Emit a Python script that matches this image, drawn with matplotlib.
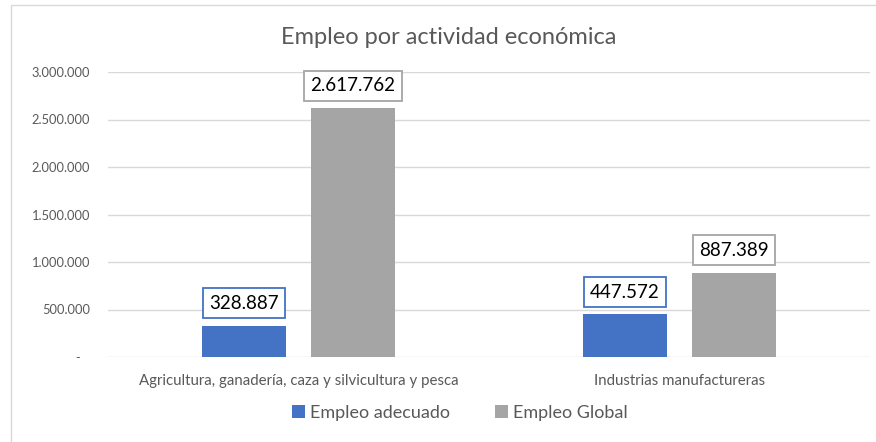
import matplotlib.pyplot as plt
import numpy as np
from matplotlib.patches import Rectangle
from matplotlib.ticker import FuncFormatter

plt.rcParams['font.family'] = ['Lato', 'DejaVu Sans']

# Datos
categorias = ["Agricultura, ganadería, caza y silvicultura y pesca",
              "Industrias manufactureras"]
empleo_adecuado = [328887, 447572]
empleo_global = [2617762, 887389]
series = ["Empleo adecuado", "Empleo Global"]
colores = ["#4472c4", "#a5a5a5"]

fig = plt.figure(figsize=(8.76, 4.42), dpi=100)
ax = fig.add_axes([108 / 876, 85 / 442, 762 / 876, 285 / 442])

# marco del gráfico
fig.patches.append(Rectangle((10.5 / 876, -0.01), 1.0, (437 / 442) + 0.01,
                             transform=fig.transFigure, fill=False,
                             edgecolor="#d9d9d9", linewidth=1))

x = np.arange(len(categorias))
ancho = 0.223
desp = 0.143

for vals, nombre, col, d in zip([empleo_adecuado, empleo_global], series, colores, [-desp, desp]):
    barras = ax.bar(x + d, vals, ancho, color=col, label=nombre, zorder=3)
    for b, v in zip(barras, vals):
        etiqueta = f"{v:,}".replace(",", ".")
        ax.annotate(etiqueta, (b.get_x() + b.get_width() / 2, v),
                    xytext=(0, 10), textcoords="offset points",
                    ha="center", va="bottom", fontsize=13.5, color="black",
                    bbox=dict(boxstyle="square,pad=0.34", facecolor="white",
                              edgecolor=col, linewidth=1.3), zorder=4)

ax.set_xlim(-0.5, 1.5)
ax.set_ylim(0, 3000000)
ax.set_yticks(np.arange(0, 3000001, 500000))
ax.yaxis.set_major_formatter(FuncFormatter(
    lambda v, p: "-   " if v == 0 else f"{int(v):,}".replace(",", ".")))
ax.set_xticks(x)
ax.set_xticklabels(categorias)
ax.tick_params(axis="both", length=0, colors="#595959")
ax.tick_params(axis="y", pad=13, labelsize=9.3)
ax.tick_params(axis="x", pad=12, labelsize=10.8)
ax.grid(axis="y", color="#d9d9d9", linewidth=1, zorder=0)
for s in ax.spines.values():
    s.set_visible(False)

fig.text(449 / 876, 1 - 37 / 442, "Empleo por actividad económica", fontsize=17,
         color="#595959", ha="center", va="center")

ax.legend(loc="center", bbox_to_anchor=(460 / 876, 29 / 442),
          bbox_transform=fig.transFigure, ncol=2, frameon=False,
          fontsize=13, handlelength=0.7, handleheight=0.7, columnspacing=2.5,
          handletextpad=0.3, labelcolor="#595959")

fig.savefig("out.png", dpi=100)
